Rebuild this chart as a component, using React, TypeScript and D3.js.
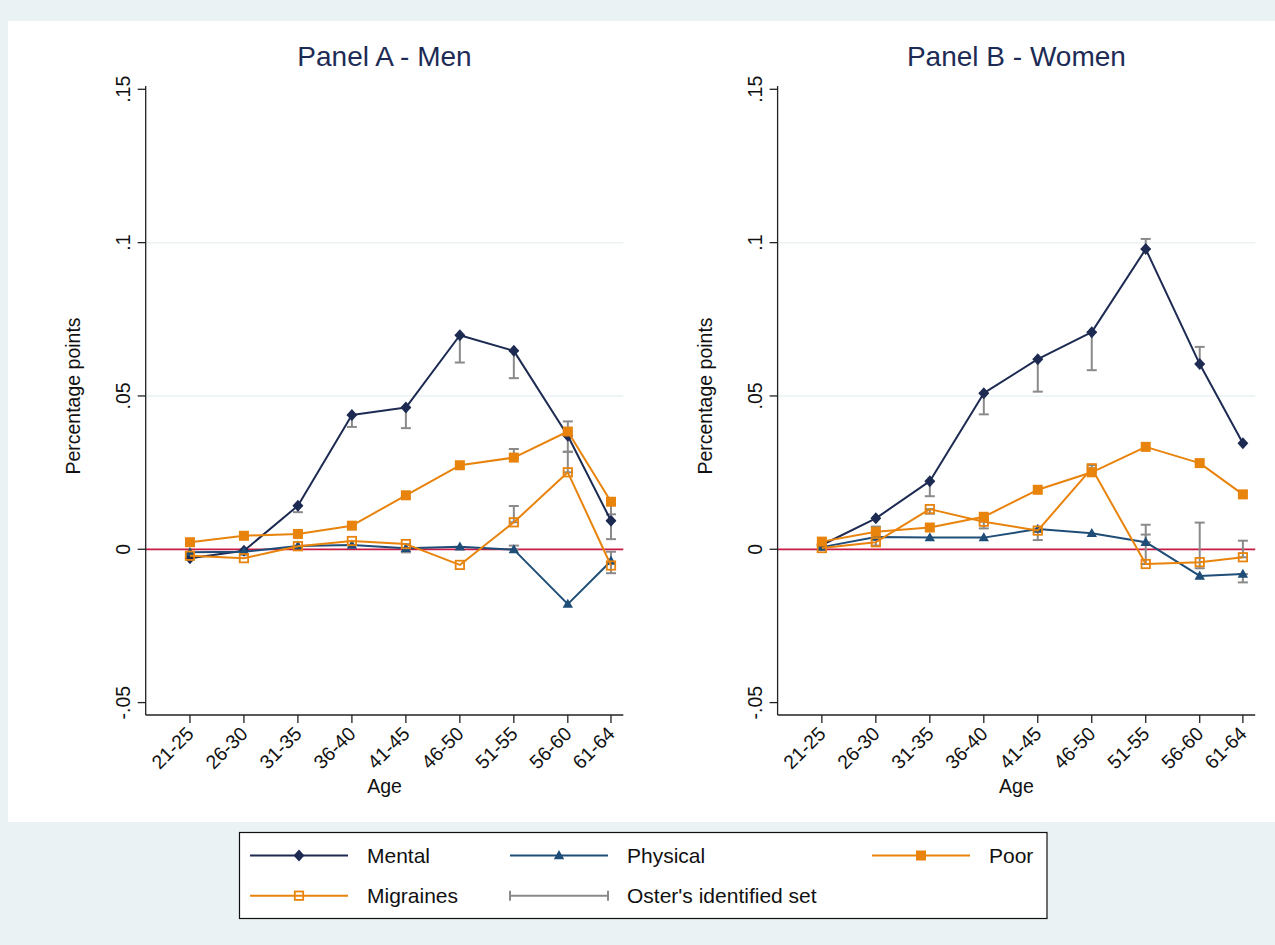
import React from 'react';
import * as d3 from 'd3';

const AGE_GROUPS = ['21-25', '26-30', '31-35', '36-40', '41-45', '46-50', '51-55', '56-60', '61-64'];
const AGE_MID = [23, 28, 33, 38, 43, 48, 53, 58, 62];
const Y_TICKS = [-0.05, 0, 0.05, 0.1, 0.15];
const Y_TICK_LABELS = ['-.05', '0', '.05', '.1', '.15'];
const GRID_TICKS = [0.05, 0.1];

// Panel A - Men
const mentalA = [-0.0029, -0.0005, 0.0142, 0.0438, 0.0462, 0.0698, 0.0647, 0.0370, 0.0093];
const physicalA = [-0.0010, -0.0008, 0.0011, 0.0014, 0.0003, 0.0008, -0.0001, -0.0179, -0.0038];
const poorA = [0.0023, 0.0044, 0.0050, 0.0077, 0.0176, 0.0274, 0.0299, 0.0384, 0.0155];
const migrainesA = [-0.0021, -0.0029, 0.0010, 0.0027, 0.0017, -0.0051, 0.0088, 0.0251, -0.0053];
// Oster's identified set: [age index, low, high]
const osterA: [number, number, number][] = [
  [0, -0.0029, -0.0012],
  [2, 0.0121, 0.0142],
  [3, 0.0399, 0.0438],
  [4, 0.0395, 0.0462],
  [4, -0.0010, 0.0017],
  [5, 0.0609, 0.0698],
  [6, 0.0558, 0.0647],
  [6, 0.0299, 0.0327],
  [6, 0.0088, 0.0141],
  [6, -0.0001, 0.0012],
  [7, 0.0384, 0.0417],
  [7, 0.0318, 0.0370],
  [7, 0.0251, 0.0318],
  [8, 0.0114, 0.0155],
  [8, 0.0033, 0.0093],
  [8, -0.0078, -0.0008],
];

// Panel B - Women
const mentalB = [0.0014, 0.0101, 0.0222, 0.0509, 0.0620, 0.0708, 0.0979, 0.0604, 0.0346];
const physicalB = [0.0007, 0.0040, 0.0038, 0.0038, 0.0066, 0.0052, 0.0023, -0.0087, -0.0081];
const poorB = [0.0025, 0.0057, 0.0071, 0.0106, 0.0194, 0.0251, 0.0334, 0.0281, 0.0179];
const migrainesB = [0.0004, 0.0023, 0.0131, 0.0090, 0.0061, 0.0264, -0.0048, -0.0042, -0.0026];
const osterB: [number, number, number][] = [
  [1, 0.0012, 0.0074],
  [2, 0.0173, 0.0222],
  [2, 0.0116, 0.0131],
  [3, 0.0440, 0.0509],
  [3, 0.0068, 0.0090],
  [4, 0.0514, 0.0620],
  [4, 0.0030, 0.0061],
  [5, 0.0584, 0.0708],
  [5, 0.0264, 0.0274],
  [6, 0.0979, 0.1012],
  [6, 0.0023, 0.0080],
  [6, -0.0048, 0.0048],
  [7, 0.0604, 0.0660],
  [7, -0.0062, 0.0087],
  [8, -0.0026, 0.0028],
  [8, -0.0108, -0.0081],
];

const C_MENTAL = '#1d2b52';
const C_PHYS = '#1e4d78';
const C_ORANGE = '#e8830c';
const C_GRAY = '#8a8a8a';
const C_ZERO = '#c81a45';
const C_BG = '#eaf2f3';
const C_TITLE = '#1d2b55';
const FONT = '"Liberation Sans", Arial, sans-serif';

type Kind = 'diamond' | 'triangle' | 'square' | 'hollow';

function Marker({ kind, x, y, color }: { kind: Kind; x: number; y: number; color: string }) {
  if (kind === 'diamond') {
    return <path d={`M${x},${y - 6}L${x + 5.4},${y}L${x},${y + 6}L${x - 5.4},${y}Z`} fill={color} />;
  }
  if (kind === 'triangle') {
    return <path d={`M${x},${y - 5.4}L${x + 5.2},${y + 3.7}L${x - 5.2},${y + 3.7}Z`} fill={color} />;
  }
  if (kind === 'square') {
    return <rect x={x - 5} y={y - 5} width={10} height={10} fill={color} />;
  }
  return <rect x={x - 4.2} y={y - 4.2} width={8.4} height={8.4} fill="none" stroke={color} strokeWidth={1.8} />;
}

function Panel({
  title, left, mental, physical, poor, migraines, oster,
}: {
  title: string; left: number; mental: number[]; physical: number[]; poor: number[]; migraines: number[];
  oster: [number, number, number][];
}) {
  const right = left + 477.6;
  const top = 86;
  const bottom = 715;
  const x = d3.scaleLinear().domain([18.9, 63.14]).range([left, right]);
  const y = d3.scaleLinear().domain([-0.05, 0.15]).range([702.6, 89.3]);
  const line = d3.line<number>().x((_, i) => x(AGE_MID[i])).y((d) => y(d));
  const cx = (left + right) / 2;

  const series: { vals: number[]; color: string; kind: Kind }[] = [
    { vals: mental, color: C_MENTAL, kind: 'diamond' },
    { vals: physical, color: C_PHYS, kind: 'triangle' },
    { vals: poor, color: C_ORANGE, kind: 'square' },
    { vals: migraines, color: C_ORANGE, kind: 'hollow' },
  ];

  return (
    <g>
      <text x={cx} y={66} textAnchor="middle" fontSize={28} fill={C_TITLE} fontFamily={FONT}>{title}</text>
      {GRID_TICKS.map((t) => (
        <line key={t} x1={left} x2={right} y1={y(t)} y2={y(t)} stroke={C_BG} strokeWidth={1.5} />
      ))}
      <line x1={left} x2={right} y1={y(0)} y2={y(0)} stroke={C_ZERO} strokeWidth={1.8} />
      <line x1={left} x2={left} y1={top} y2={bottom} stroke="#222" strokeWidth={1.3} />
      <line x1={left} x2={right} y1={bottom} y2={bottom} stroke="#222" strokeWidth={1.3} />
      {Y_TICKS.map((t, i) => (
        <g key={t}>
          <line x1={left - 8} x2={left} y1={y(t)} y2={y(t)} stroke="#222" strokeWidth={1.3} />
          <text transform={`translate(${left - 15.7},${y(t)}) rotate(-90)`} textAnchor="middle" fontSize={19.5}
            fontFamily={FONT} fill="#111">{Y_TICK_LABELS[i]}</text>
        </g>
      ))}
      <text transform={`translate(${left - 65.7},396) rotate(-90)`} textAnchor="middle" fontSize={19.5}
        fontFamily={FONT} fill="#111">Percentage points</text>
      {AGE_GROUPS.map((g, i) => (
        <g key={g}>
          <line x1={x(AGE_MID[i])} x2={x(AGE_MID[i])} y1={bottom} y2={bottom + 8} stroke="#222" strokeWidth={1.3} />
          <text transform={`translate(${x(AGE_MID[i]) + 5},735) rotate(-45)`} textAnchor="end" fontSize={19.5}
            fontFamily={FONT} fill="#111">{g}</text>
        </g>
      ))}
      <text x={cx} y={793} textAnchor="middle" fontSize={19.5} fontFamily={FONT} fill="#111">Age</text>
      {oster.map(([i, lo, hi], k) => {
        const px = x(AGE_MID[i]);
        return (
          <g key={k} stroke={C_GRAY} strokeWidth={2}>
            <line x1={px} x2={px} y1={y(lo)} y2={y(hi)} />
            <line x1={px - 5} x2={px + 5} y1={y(lo)} y2={y(lo)} />
            <line x1={px - 5} x2={px + 5} y1={y(hi)} y2={y(hi)} />
          </g>
        );
      })}
      {series.map((s, k) => (
        <g key={k}>
          <path d={line(s.vals) || ''} fill="none" stroke={s.color} strokeWidth={2} strokeLinejoin="round" />
          {s.vals.map((v, i) => (
            <Marker key={i} kind={s.kind} x={x(AGE_MID[i])} y={y(v)} color={s.color} />
          ))}
        </g>
      ))}
    </g>
  );
}

function LegendItem({ x1, yy, color, kind, label, oster }: {
  x1: number; yy: number; color: string; kind?: Kind; label: string; oster?: boolean;
}) {
  const x2 = x1 + 98;
  const mid = (x1 + x2) / 2;
  return (
    <g>
      <line x1={x1} x2={x2} y1={yy} y2={yy} stroke={color} strokeWidth={2} />
      {oster && (
        <g stroke={color} strokeWidth={2}>
          <line x1={x1} x2={x1} y1={yy - 5} y2={yy + 5} />
          <line x1={x2} x2={x2} y1={yy - 5} y2={yy + 5} />
        </g>
      )}
      {kind && <Marker kind={kind} x={mid} y={yy} color={color} />}
      <text x={x2 + 19} y={yy} dy="0.35em" fontSize={21} fontFamily={FONT} fill="#111">{label}</text>
    </g>
  );
}

export default function App() {
  return (
    <svg width={1275} height={945} style={{ position: 'absolute', left: 0, top: 0 }}>
      <rect x={0} y={0} width={1275} height={945} fill={C_BG} />
      <rect x={8} y={21} width={1267} height={801} fill="#fff" />
      <Panel title="Panel A - Men" left={145.7} mental={mentalA} physical={physicalA} poor={poorA}
        migraines={migrainesA} oster={osterA} />
      <Panel title="Panel B - Women" left={777.6} mental={mentalB} physical={physicalB} poor={poorB}
        migraines={migrainesB} oster={osterB} />
      <rect x={239.5} y={832.5} width={807.5} height={86} fill="#fff" stroke="#111" strokeWidth={1.2} />
      <LegendItem x1={250} yy={855.5} color={C_MENTAL} kind="diamond" label="Mental" />
      <LegendItem x1={510} yy={855.5} color={C_PHYS} kind="triangle" label="Physical" />
      <LegendItem x1={872} yy={855.5} color={C_ORANGE} kind="square" label="Poor" />
      <LegendItem x1={250} yy={895.7} color={C_ORANGE} kind="hollow" label="Migraines" />
      <LegendItem x1={510} yy={895.7} color={C_GRAY} label="Oster's identified set" oster />
    </svg>
  );
}
